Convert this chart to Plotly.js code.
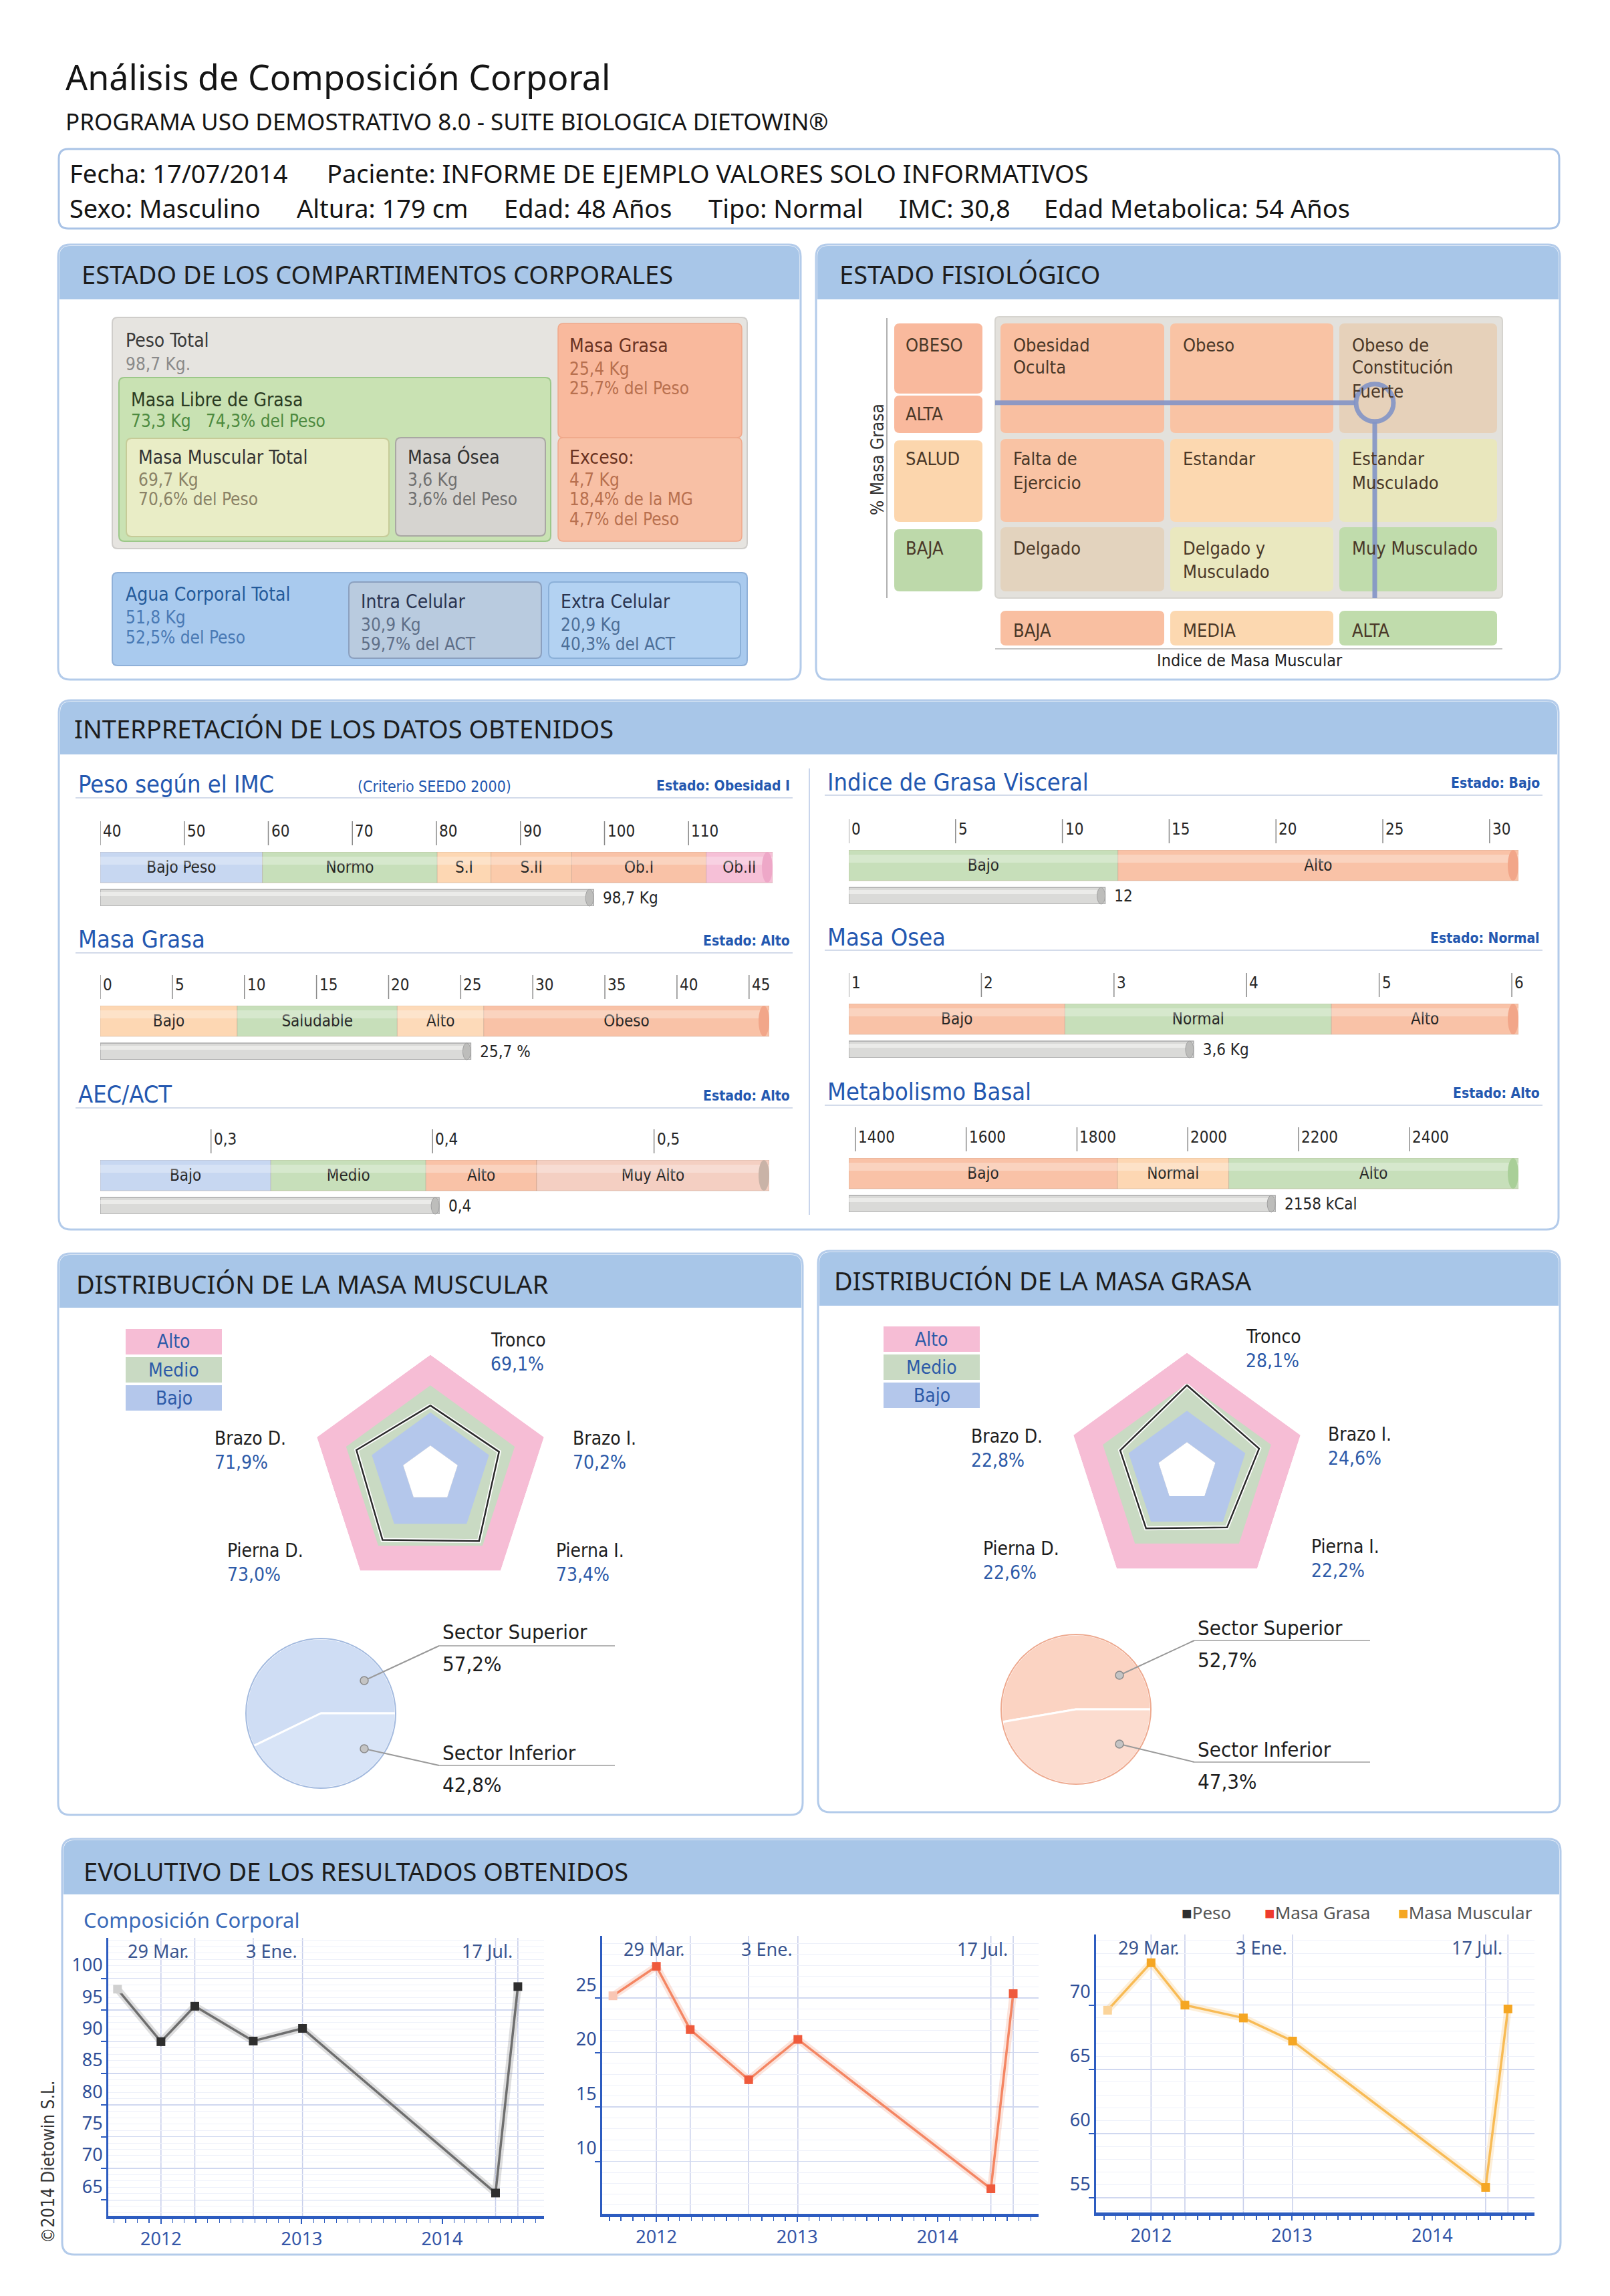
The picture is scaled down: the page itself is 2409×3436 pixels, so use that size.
<!DOCTYPE html>
<html><head><meta charset="utf-8">
<script src="https://cdn.plot.ly/plotly-3.0.1.min.js"></script>
<style>html,body{margin:0;padding:0;background:#fff}</style>
</head><body><div id="chart" style="width:2409px;height:3436px"></div>
<script>
// ---------------- DATA ----------------
const imcLimites=[40,59.3,80.1,86.5,96.1,112.1,120];
const imcZonas=['Bajo Peso','Normo','S.I','S.II','Ob.I','Ob.II'];
const imcMarcas=[40,50,60,70,80,90,100,110];
const imcValor=98.7, imcTexto='98,7 Kg';

const grasaLimites=[0,9.5,20.6,26.6,46.4];
const grasaZonas=['Bajo','Saludable','Alto','Obeso'];
const grasaMarcas=[0,5,10,15,20,25,30,35,40,45];
const grasaValor=25.7, grasaTexto='25,7 %';

const aecLimites=[0.25,0.327,0.397,0.447,0.552];
const aecZonas=['Bajo','Medio','Alto','Muy Alto'];
const aecMarcas=[0.3,0.4,0.5];
const aecValor=0.403, aecTexto='0,4';

const visceralLimites=[0,12.6,31.35];
const visceralZonas=['Bajo','Alto'];
const visceralMarcas=[0,5,10,15,20,25,30];
const visceralValor=12, visceralTexto='12';

const oseaLimites=[1,2.63,4.64,6.05];
const oseaZonas=['Bajo','Normal','Alto'];
const oseaMarcas=[1,2,3,4,5,6];
const oseaValor=3.6, oseaTexto='3,6 Kg';

const metabLimites=[1388,1873,2074,2597];
const metabZonas=['Bajo','Normal','Alto'];
const metabMarcas=[1400,1600,1800,2000,2200,2400];
const metabValor=2158, metabTexto='2158 kCal';

const segmentos=['Tronco','Brazo I.','Pierna I.','Pierna D.','Brazo D.'];
const muscValores=[69.1,70.2,73.4,73.0,71.9];
const muscMin=57, muscBandas=[67,75.2,84.5];
const grasaSegValores=[28.1,24.6,22.2,22.6,22.8];
const grasaSegMin=10, grasaSegBandas=[20,28.6,38.4];
const bandasNombres=['Alto','Medio','Bajo'];

const sectores=['Sector Superior','Sector Inferior'];
const muscSector=[57.2,42.8];
const grasaSector=[52.7,47.3];

const fechas=['2011-09-10','2012-01-01','2012-03-29','2012-08-28','2013-01-03','2014-05-20','2014-07-17'];
const peso=[98.3,90.0,95.6,90.1,92.1,66.1,98.7];
const masaGrasa=[25.2,27.9,22.1,17.5,21.2,7.5,25.4];
const masaMuscular=[69.6,73.3,70.0,69.0,67.2,55.8,69.7];
const fechaEtiquetas=['29 Mar.','3 Ene.','17 Jul.'];
const fechaEtiquetasIdx=[2,4,6];
const pesoMarcas=[65,70,75,80,85,90,95,100];
const grasaEvMarcas=[10,15,20,25];
const muscEvMarcas=[55,60,65,70];

const fisioIMM=2.245, fisioGrasa=0.694;

// ---------------- HELPERS ----------------
const W=2409,H=3436;
const X=p=>p/W, Y=p=>1-p/H;
const FT='"Noto Sans","Open Sans",sans-serif';
const FV='"DejaVu Sans Condensed","DejaVu Sans",sans-serif';
const shapes=[], annotations=[], traces=[];
const layout={width:W,height:H,margin:{l:0,r:0,t:0,b:0},paper_bgcolor:'#ffffff',plot_bgcolor:'rgba(0,0,0,0)',
  showlegend:false,barmode:'overlay',shapes,annotations};

function rrPath(x0,y0,x1,y1,r,topOnly){
  const rx=r/W, ry=r/H, a=X(x0), b=X(x1), t=Y(y0), bt=Y(y1);
  if(topOnly) return `M${a},${bt} L${a},${t-ry} Q${a},${t} ${a+rx},${t} L${b-rx},${t} Q${b},${t} ${b},${t-ry} L${b},${bt} Z`;
  return `M${a+rx},${t} L${b-rx},${t} Q${b},${t} ${b},${t-ry} L${b},${bt+ry} Q${b},${bt} ${b-rx},${bt} L${a+rx},${bt} Q${a},${bt} ${a},${bt+ry} L${a},${t-ry} Q${a},${t} ${a+rx},${t} Z`;
}
function box(x0,y0,x1,y1,r,fill,line,lw,topOnly){
  shapes.push({type:'path',xref:'paper',yref:'paper',path:rrPath(x0,y0,x1,y1,r,topOnly),fillcolor:fill,
    line:{color:line||'rgba(0,0,0,0)',width:lw||0},layer:'below'});
}
function lineP(x0,y0,x1,y1,color,w,layer){
  shapes.push({type:'line',xref:'paper',yref:'paper',x0:X(x0),y0:Y(y0),x1:X(x1),y1:Y(y1),line:{color,width:w},layer:layer||'below'});
}
function T(x,y,text,size,color,o){
  o=o||{};
  annotations.push(Object.assign({xref:'paper',yref:'paper',x:X(x),y:Y(y),text,showarrow:false,
    xanchor:o.anchor||'left',yanchor:'middle',font:{family:o.f||FV,size,color}},o.extra||{}));
}
function panel(x0,y0,x1,y1,hb,title,tx,ty){
  box(x0,y0,x1,y1,18,'#ffffff','#b3cbea',3);
  box(x0+2,y0+2,x1-2,hb,16,'#a8c6e8',null,0,true);
  T(tx,ty,title,38,'#1d1d1d',{f:FT});
}
const fmt=v=>String(v).replace('.',',');
const fmt1=v=>v.toFixed(1).replace('.',',');

// ---------------- HEADER ----------------
T(96,114,'Análisis de Composición Corporal',52,'#151515',{f:FT});
T(96,182,'PROGRAMA USO DEMOSTRATIVO 8.0 - SUITE BIOLOGICA DIETOWIN®',35,'#151515',{f:FT});
box(88,223,2333,342,14,'#ffffff','#a9c3e6',3);
T(102,259,'Fecha: 17/07/2014',38,'#151515',{f:FT});
T(487,259,'Paciente: INFORME DE EJEMPLO VALORES SOLO INFORMATIVOS',38,'#151515',{f:FT});
[[102,'Sexo: Masculino'],[442,'Altura: 179 cm'],[752,'Edad: 48 Años'],[1058,'Tipo: Normal'],[1343,'IMC: 30,8'],[1560,'Edad Metabolica: 54 Años']]
  .forEach(([x,t])=>T(x,311,t,38,'#151515',{f:FT}));

// ---------------- PANELS ----------------
panel(87,366,1198,1017,448,'ESTADO DE LOS COMPARTIMENTOS CORPORALES',120,410);
panel(1221,366,2334,1017,448,'ESTADO FISIOLÓGICO',1254,410);
panel(88,1048,2332,1840,1129,'INTERPRETACIÓN DE LOS DATOS OBTENIDOS',109,1090);
panel(87,1876,1201,2716,1957,'DISTRIBUCIÓN DE LA MASA MUSCULAR',112,1921);
panel(1224,1872,2334,2712,1954,'DISTRIBUCIÓN DE LA MASA GRASA',1246,1916);
panel(93,2752,2335,3374,2835,'EVOLUTIVO DE LOS RESULTADOS OBTENIDOS',123,2800);

// ---------------- COMPARTIMENTOS ----------------
box(168,475,1118,821,8,'#e6e4e0','#cfcdca',2);
T(186,509,'Peso Total',28,'#3a3a3a'); T(186,545,'98,7 Kg.',26,'#8a8a8a');
box(835,484,1110,655,8,'#f9b99d','#f0a88a',1.5);
box(835,655,1110,810,8,'#f8c0a5','#f0a88a',1.5);
T(850,517,'Masa Grasa',28,'#6a3322'); T(850,552,'25,4 Kg',26,'#b8704f'); T(850,581,'25,7% del Peso',26,'#b8704f');
T(850,684,'Exceso:',28,'#6a3322'); T(850,718,'4,7 Kg',26,'#b8704f'); T(850,747,'18,4% de la MG',26,'#b8704f'); T(850,777,'4,7% del Peso',26,'#b8704f');
box(178,565,824,810,8,'#c9e2b3','#9cc889',2);
T(194,598,'Masa Libre de Grasa',28,'#2b3b22'); T(194,630,'73,3 Kg&nbsp;&nbsp;&nbsp;74,3% del Peso',26,'#4d8a3f');
box(189,656,582,803,8,'#e9edc6','#c6cb98',2);
T(205,684,'Masa Muscular Total',28,'#333333'); T(205,718,'69,7 Kg',26,'#8a8266'); T(205,747,'70,6% del Peso',26,'#8a8266');
box(592,655,816,802,8,'#d6d4d0','#a9a7a3',2);
T(608,684,'Masa Ósea',28,'#333333'); T(608,718,'3,6 Kg',26,'#707070'); T(608,747,'3,6% del Peso',26,'#707070');
box(168,857,1118,996,8,'#a9caee','#8fb0d8',2);
T(186,890,'Agua Corporal Total',28,'#245a9a'); T(186,924,'51,8 Kg',26,'#4a7ab5'); T(186,954,'52,5% del Peso',26,'#4a7ab5');
box(522,871,810,985,8,'#b9cbdf','#8ba0bf',2);
T(538,901,'Intra Celular',28,'#2a3450'); T(538,935,'30,9 Kg',26,'#5f6f88'); T(538,964,'59,7% del ACT',26,'#5f6f88');
box(821,871,1108,985,8,'#b3d2f2','#8bb0d8',2);
T(837,901,'Extra Celular',28,'#2a3450'); T(837,935,'20,9 Kg',26,'#4d6f98'); T(837,964,'40,3% del ACT',26,'#4d6f98');

// ---------------- ESTADO FISIOLOGICO ----------------
lineP(1327,476,1327,895,'#b0b0b0',2);
T(1313,688,'% Masa Grasa',26,'#333',{anchor:'center',extra:{textangle:-90}});
box(1338,484,1470,589,8,'#f9b99d');
box(1338,592,1470,648,8,'#f9b99d');
box(1338,659,1470,781,8,'#fcd6ad');
box(1338,792,1470,885,8,'#bdd9aa');
T(1353,516,'OBESO',27,'#4a3828'); T(1353,619,'ALTA',27,'#4a3828'); T(1353,686,'SALUD',27,'#4a3828'); T(1353,821,'BAJA',27,'#4a3828');
box(1489,474,2248,895,6,'#e3e1dc','#d6d4cf',2);
const colsX=[[1497,1742],[1751,1995],[2004,2240]], rowsY=[[484,648],[657,781],[789,885]];
const cellCol=[['#f9bfa1','#f9c3a4','#e6d1ba'],['#f9c3a4','#fcd8b0','#e9e7bd'],['#e3d3be','#eae8bf','#c0dcac']];
const cellTxt=[[['Obesidad','Oculta'],['Obeso'],['Obeso de','Constitución','Fuerte']],
               [['Falta de','Ejercicio'],['Estandar'],['Estandar','Musculado']],
               [['Delgado'],['Delgado y','Musculado'],['Muy Musculado']]];
const cellTxtY=[[516,550,585],[686,722],[821,855]];
rowsY.forEach((ry,r)=>colsX.forEach((cx,c)=>{
  box(cx[0],ry[0],cx[1],ry[1],8,cellCol[r][c]);
  cellTxt[r][c].forEach((t,k)=>T(cx[0]+17,cellTxtY[r][k],t,27,'#4a3828'));
}));
[['BAJA','#f9bfa1'],['MEDIA','#fcd8b0'],['ALTA','#c0dcac']].forEach(([t,c],i)=>{
  box(colsX[i][0],914,colsX[i][1],966,8,c);
  T(colsX[i][0]+17,943,t,27,'#4a3828');
});
lineP(1489,971,2248,971,'#c4c4c4',2);
T(1870,988,'Indice de Masa Muscular',25,'#222',{anchor:'center'});

let axN=2;
(function(){
  const n=axN++, xa='x'+n, ya='y'+n;
  layout['xaxis'+n]={domain:[X(1489),X(2248)],range:[0,3],anchor:ya,visible:false,fixedrange:true};
  layout['yaxis'+n]={domain:[Y(895),Y(474)],range:[0,1],anchor:xa,visible:false,fixedrange:true};
  const rx=29/(759/3), ry=29/421, col='rgba(130,148,198,0.9)';
  traces.push({type:'scatter',mode:'lines',xaxis:xa,yaxis:ya,x:[-0.044,fisioIMM-rx],y:[fisioGrasa,fisioGrasa],line:{color:col,width:7},cliponaxis:false,hoverinfo:'skip'});
  traces.push({type:'scatter',mode:'lines',xaxis:xa,yaxis:ya,x:[fisioIMM,fisioIMM],y:[fisioGrasa-ry,-0.029],line:{color:col,width:7},cliponaxis:false,hoverinfo:'skip'});
  traces.push({type:'scatter',mode:'markers',xaxis:xa,yaxis:ya,x:[fisioIMM],y:[fisioGrasa],marker:{symbol:'circle-open',size:56,color:col,line:{width:7,color:col}},cliponaxis:false,hoverinfo:'skip'});
})();

// ---------------- GAUGES ----------------
function gauge(g){
  const n=axN++, xa='x'+n, ya='y'+n;
  layout['xaxis'+n]={domain:[X(g.x0),X(g.x1)],range:[g.lim[0],g.lim[g.lim.length-1]],anchor:ya,visible:false,fixedrange:true};
  layout['yaxis'+n]={domain:[Y(g.top+81),Y(g.top)],range:[0,81],anchor:xa,visible:false,fixedrange:true};
  const r0=g.lim[0], r1=g.lim[g.lim.length-1];
  const starts=g.lim.slice(0,-1), widths=starts.map((s,i)=>g.lim[i+1]-s);
  traces.push({type:'bar',orientation:'h',xaxis:xa,yaxis:ya,base:starts,x:widths,y:starts.map(()=>58),width:46,
    marker:{color:g.col,line:{color:'rgba(150,120,100,0.25)',width:1}},text:g.zonas,textposition:'inside',insidetextanchor:'middle',
    textfont:{family:FV,size:24,color:'#262626'},constraintext:'none',hoverinfo:'skip',showlegend:false});
  traces.push({type:'bar',orientation:'h',xaxis:xa,yaxis:ya,base:[r0],x:[g.valor-r0],y:[12.5],width:25,
    marker:{color:'#dadad8',line:{color:'#a9a9a9',width:1.5}},text:['\u2002'+g.texto],textposition:'outside',
    textfont:{family:FV,size:24,color:'#262626'},constraintext:'none',cliponaxis:false,hoverinfo:'skip',showlegend:false});
  const upp=(r1-r0)/(g.x1-g.x0);
  shapes.push({type:'rect',xref:xa,yref:'paper',x0:r0,x1:r1,y0:Y(g.top+19),y1:Y(g.top+7),fillcolor:'rgba(255,255,255,0.28)',line:{width:0}});
  shapes.push({type:'rect',xref:xa,yref:'paper',x0:r0,x1:g.valor,y0:Y(g.top+66),y1:Y(g.top+60),fillcolor:'rgba(255,255,255,0.45)',line:{width:0}});
  shapes.push({type:'circle',xref:xa,yref:'paper',x0:r1-16*upp,x1:r1,y0:Y(g.top+46),y1:Y(g.top),fillcolor:g.cap,line:{width:0}});
  shapes.push({type:'circle',xref:xa,yref:'paper',x0:r0-8*upp,x1:r0+8*upp,y0:Y(g.top+46),y1:Y(g.top),fillcolor:g.col[0],line:{width:0},layer:'below'});
  shapes.push({type:'circle',xref:xa,yref:'paper',x0:g.valor-12*upp,x1:g.valor,y0:Y(g.top+81),y1:Y(g.top+56),fillcolor:'#bdbdbb',line:{color:'#a0a0a0',width:1}});
  shapes.push({type:'circle',xref:xa,yref:'paper',x0:r0-6*upp,x1:r0+6*upp,y0:Y(g.top+81),y1:Y(g.top+56),fillcolor:'#dadad8',line:{width:0},layer:'below'});
  g.marcas.forEach(t=>{
    shapes.push({type:'line',xref:xa,yref:'paper',x0:t,x1:t,y0:Y(g.top-46),y1:Y(g.top-10),line:{color:'#8a8a8a',width:1.5}});
    annotations.push({xref:xa,yref:'paper',x:t,y:Y(g.top-31),text:fmt(t),xanchor:'left',yanchor:'middle',xshift:2,showarrow:false,
      font:{family:FV,size:24,color:'#262626'}});
  });
  T(g.tx,g.ty,g.title,36,'#2458b0');
  T(g.sx,g.ty+2,'<b>'+g.status+'</b>',21,'#2458b0',{anchor:'right'});
  lineP(g.tx-2,g.ty+20,g.sx+2,g.ty+20,'#d3dbea',2);
}
const cBlue='#c7d7f1', cGreen='#c7dfba', cPeach='#fdd7b3', cSalmon='#f9c2a7', cPink='#f6c0d7';
gauge({x0:150,x1:1156,top:1275,lim:imcLimites,zonas:imcZonas,col:[cBlue,cGreen,cPeach,'#fbcbab',cSalmon,cPink],cap:'#eea8c8',
  marcas:imcMarcas,valor:imcValor,texto:imcTexto,title:'Peso según el IMC',status:'Estado: Obesidad I',tx:115,ty:1174,sx:1184});
T(533,1177,'(Criterio SEEDO 2000)',23,'#2458b0');
gauge({x0:150,x1:1151,top:1505,lim:grasaLimites,zonas:grasaZonas,col:[cPeach,cGreen,'#fddab9',cSalmon],cap:'#f2a689',
  marcas:grasaMarcas,valor:grasaValor,texto:grasaTexto,title:'Masa Grasa',status:'Estado: Alto',tx:115,ty:1406,sx:1184});
gauge({x0:150,x1:1151,top:1736,lim:aecLimites,zonas:aecZonas,col:[cBlue,cGreen,cSalmon,'#f4cfc2'],cap:'#c9b3a7',
  marcas:aecMarcas,valor:aecValor,texto:aecTexto,title:'AEC/ACT',status:'Estado: Alto',tx:115,ty:1638,sx:1184});
gauge({x0:1270,x1:2272,top:1272,lim:visceralLimites,zonas:visceralZonas,col:[cGreen,cSalmon],cap:'#f2a689',
  marcas:visceralMarcas,valor:visceralValor,texto:visceralTexto,title:'Indice de Grasa Visceral',status:'Estado: Bajo',tx:1236,ty:1170,sx:2306});
gauge({x0:1270,x1:2272,top:1502,lim:oseaLimites,zonas:oseaZonas,col:[cSalmon,cGreen,cSalmon],cap:'#f2a689',
  marcas:oseaMarcas,valor:oseaValor,texto:oseaTexto,title:'Masa Osea',status:'Estado: Normal',tx:1236,ty:1402,sx:2306});
gauge({x0:1270,x1:2272,top:1733,lim:metabLimites,zonas:metabZonas,col:[cSalmon,cPeach,cGreen],cap:'#a9cf98',
  marcas:metabMarcas,valor:metabValor,texto:metabTexto,title:'Metabolismo Basal',status:'Estado: Alto',tx:1236,ty:1634,sx:2306});
lineP(1211,1150,1211,1818,'#c9d5ec',2);

// ---------------- RADARS ----------------
const bandCol=['#f6bdd5','#c9dac3','#b4c7eb'];
function radar(pid,cx,cy,R,hole,min,bandas,valores,labelPos,legX,legY){
  layout[pid]={domain:{x:[X(cx-R),X(cx+R)],y:[Y(cy+R),Y(cy-R)]},bgcolor:'rgba(0,0,0,0)',gridshape:'linear',hole,
    angularaxis:{type:'category',categoryarray:segmentos,rotation:90,direction:'clockwise',showgrid:false,showline:false,showticklabels:false,ticks:''},
    radialaxis:{range:[min,bandas[2]],showgrid:false,showline:false,showticklabels:false,ticks:''}};
  const th=segmentos.concat([segmentos[0]]);
  [2,1,0].forEach((b,k)=>traces.push({type:'scatterpolar',subplot:pid,r:th.map(()=>bandas[b]),theta:th,mode:'lines',fill:'toself',
    fillcolor:bandCol[k],line:{width:0,color:bandCol[k]},hoverinfo:'skip'}));
  traces.push({type:'scatterpolar',subplot:pid,r:th.map(()=>min),theta:th,mode:'lines',fill:'toself',fillcolor:'#ffffff',line:{width:0,color:'#fff'},hoverinfo:'skip'});
  traces.push({type:'scatterpolar',subplot:pid,r:valores.concat([valores[0]]),theta:th,mode:'lines',line:{color:'#ffffff',width:6},hoverinfo:'skip'});
  traces.push({type:'scatterpolar',subplot:pid,r:valores.concat([valores[0]]),theta:th,mode:'lines',line:{color:'#2a2a2a',width:2.5},hoverinfo:'skip'});
  segmentos.forEach((s,i)=>{
    T(labelPos[i][0],labelPos[i][1],s,28,'#1e1e1e');
    T(labelPos[i][0],labelPos[i][1]+36,fmt1(valores[i])+'%',28,'#2d5aa8');
  });
  bandasNombres.forEach((b,i)=>{
    box(legX,legY+i*42,legX+144,legY+i*42+38,0,bandCol[i]);
    T(legX+72,legY+i*42+19,b,28,'#2d5aa8',{anchor:'center'});
  });
}
radar('polar',644,2206,178.6,0.24,muscMin,muscBandas,muscValores,
  [[732,2005],[855,2152],[830,2320],[338,2320],[319,2152]],188,1989);
radar('polar2',1776,2203,178.6,0.25,grasaSegMin,grasaSegBandas,grasaSegValores,
  [[1862,2000],[1985,2146],[1960,2314],[1469,2317],[1451,2149]],1322,1985);

// ---------------- PIES ----------------
function pie(cx,cy,r,vals,cols,border,lab){
  // first slice (Sector Superior) runs clockwise over the top and ends at 3 o'clock
  const rot=90-3.6*vals[0]/(vals[0]+vals[1])*100;
  traces.push({type:'pie',values:vals,labels:sectores,domain:{x:[X(cx-r),X(cx+r)],y:[Y(cy+r),Y(cy-r)]},sort:false,
    direction:'clockwise',rotation:rot,textinfo:'none',hoverinfo:'skip',showlegend:false,
    marker:{colors:cols,line:{color:'#ffffff',width:3}}});
  shapes.push({type:'circle',xref:'paper',yref:'paper',x0:X(cx-r),x1:X(cx+r),y0:Y(cy+r),y1:Y(cy-r),line:{color:border,width:2},layer:'above'});
  lab.forEach((L,i)=>{
    lineP(L.dx,L.dy,L.kx,L.ky,'#9a9a9a',2,'above');
    lineP(L.kx,L.ky,L.ex,L.ky,'#b5b5b5',2,'above');
    shapes.push({type:'circle',xref:'paper',yref:'paper',x0:X(L.dx-6),x1:X(L.dx+6),y0:Y(L.dy+6),y1:Y(L.dy-6),fillcolor:'#c4c4c4',line:{color:'#8a8a8a',width:1.5},layer:'above'});
    T(L.kx+3,L.ty,sectores[i],31,'#1e1e1e');
    T(L.kx+3,L.ty+48,fmt1(vals[i])+'%',31,'#1e1e1e');
  });
}
pie(480,2564,112,muscSector,['#cfddf4','#d8e4f7'],'#a3badf',
  [{dx:545,dy:2515,kx:657,ky:2463,ex:920,ty:2442},{dx:545,dy:2617,kx:657,ky:2642,ex:920,ty:2623}]);
pie(1610,2558,112,grasaSector,['#fbd3c2','#fcdccf'],'#eeaa90',
  [{dx:1675,dy:2507,kx:1787,ky:2455,ex:2050,ty:2436},{dx:1675,dy:2610,kx:1787,ky:2637,ex:2050,ty:2618}]);

// ---------------- EVOLUTIVO ----------------
T(123,2873,'Composición Corporal',31,'#3a6ab8',{f:FT});
function lineChart(c){
  const n=axN++, xa='x'+n, ya='y'+n;
  layout['xaxis'+n]={type:'date',domain:[X(c.x0),X(c.x1)],range:c.xr,anchor:ya,showline:true,linecolor:'#2d5cc0',linewidth:5,
    ticks:'outside',ticklen:7,tickwidth:2,tickcolor:'#2d5cc0',dtick:'M12',tick0:'2012-01-01',tickformat:'%Y',
    tickfont:{family:FT,size:27,color:'#3556a8'},minor:{dtick:'M1',ticks:'outside',ticklen:6,tickwidth:1.5,tickcolor:'#2d5cc0',showgrid:false},
    showgrid:false,zeroline:false,fixedrange:true};
  layout['yaxis'+n]={domain:[Y(c.y1),Y(c.y0)],range:c.yr,anchor:xa,showline:true,linecolor:'#2d5cc0',linewidth:3,
    ticks:'outside',ticklen:8,tickwidth:2,tickcolor:'#2d5cc0',tickvals:c.marcas,ticklabelposition:'outside top',
    tickfont:{family:FT,size:27,color:'#2f4f98'},showgrid:true,gridcolor:'#d0d8f0',gridwidth:1.5,
    minor:{dtick:1,showgrid:true,gridcolor:'#eef1fa',gridwidth:1},zeroline:false,fixedrange:true};
  fechas.slice(1).forEach(f=>shapes.push({type:'line',xref:xa,yref:'paper',x0:f,x1:f,y0:Y(c.y1),y1:Y(c.y0),line:{color:'#c6cdea',width:1.5},layer:'below'}));
  fechaEtiquetasIdx.forEach((k,i)=>annotations.push({xref:xa,yref:'paper',x:fechas[k],y:Y(c.y0+19),text:fechaEtiquetas[i],xanchor:'right',xshift:-6,
    yanchor:'middle',showarrow:false,font:{family:FT,size:27,color:'#3a5590'}}));
  traces.push({type:'scatter',mode:'lines',xaxis:xa,yaxis:ya,x:fechas,y:c.y,line:{color:c.lc,width:11},opacity:0.22,hoverinfo:'skip'});
  traces.push({type:'scatter',mode:'lines+markers',xaxis:xa,yaxis:ya,x:fechas,y:c.y,line:{color:c.lc,width:3.5},
    marker:{symbol:'square',size:13,color:fechas.map((f,i)=>i===0?c.first:c.mc)},hoverinfo:'skip',cliponaxis:false});
}
lineChart({x0:162,x1:814,y0:2900,y1:3316,xr:['2011-08-17','2014-09-23'],yr:[62.5,106.4],marcas:pesoMarcas,y:peso,lc:'#6e6e6e',mc:'#2e2e2e',first:'#d0d0d0'});
lineChart({x0:901,x1:1554,y0:2897,y1:3313,xr:['2011-08-13','2014-09-21'],yr:[5.2,30.7],marcas:grasaEvMarcas,y:masaGrasa,lc:'#f48663',mc:'#ef5a3c',first:'#f9c6b4'});
lineChart({x0:1640,x1:2296,y0:2895,y1:3311,xr:['2011-08-11','2014-09-24'],yr:[53.85,75.5],marcas:muscEvMarcas,y:masaMuscular,lc:'#f8bb55',mc:'#f5a623',first:'#fbd49a'});
[['Peso','#2e2e2e',1766],['Masa Grasa','#ee3b2e',1890],['Masa Muscular','#f5a623',2090]].forEach(([t,c,x])=>
  T(x,2862,`<span style="color:${c}">■</span>${t}`,26,'#555555',{f:FT}));

T(72,3236,'©2014 Dietowin S.L.',26,'#333',{anchor:'center',extra:{textangle:-90}});

Plotly.newPlot('chart',traces,layout,{displayModeBar:false,staticPlot:true});
</script></body></html>
